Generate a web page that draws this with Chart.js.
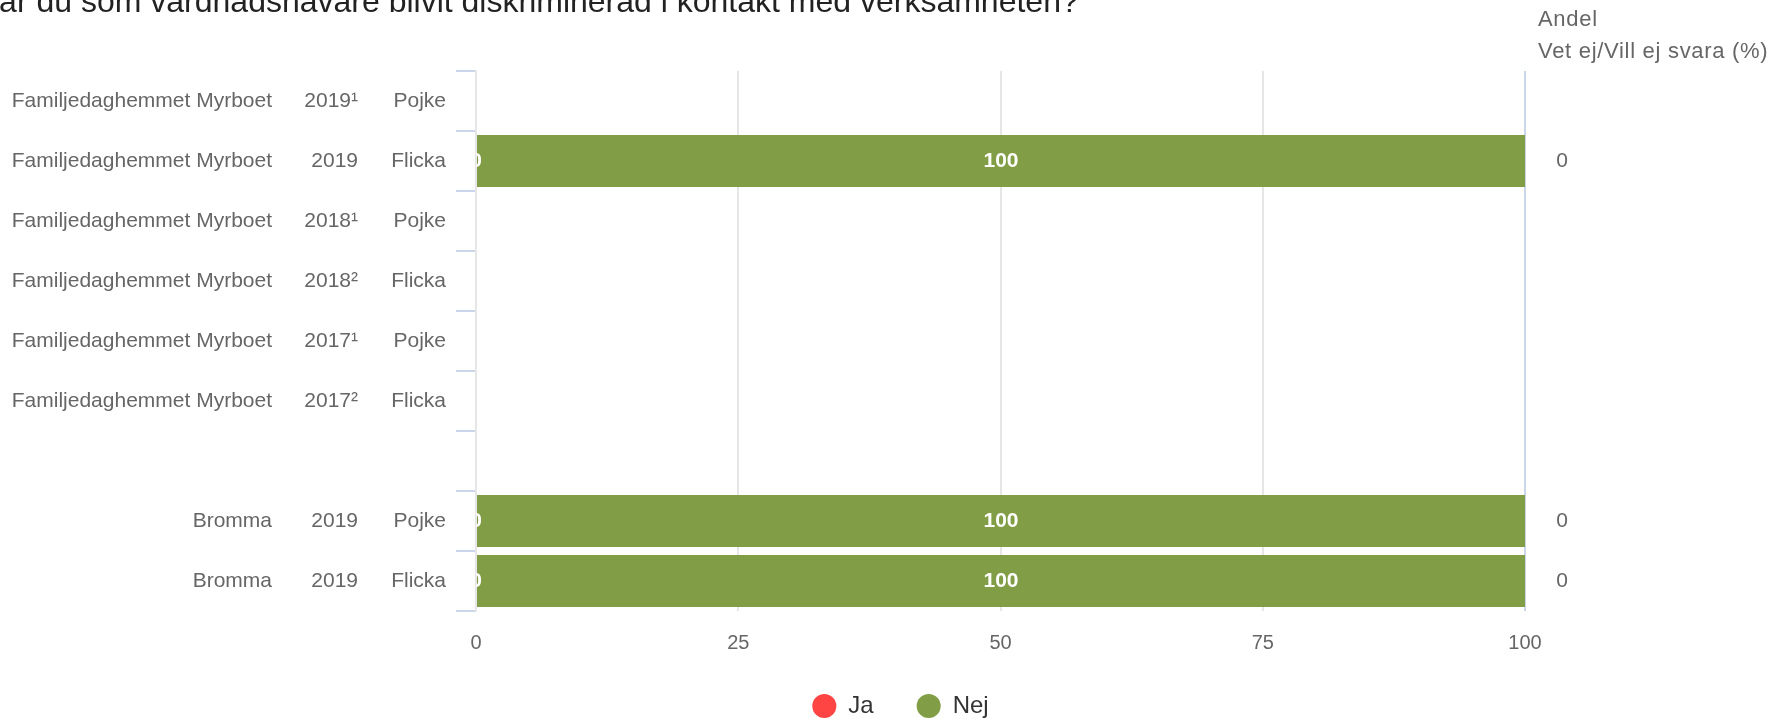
<!DOCTYPE html>
<html>
<head>
<meta charset="utf-8">
<script src="https://cdn.jsdelivr.net/npm/chart.js@4.4.1/dist/chart.umd.min.js"></script>
<style>
  html, body { margin: 0; padding: 0; background: #fff; }
  #wrap { width: 1777px; height: 723px; overflow: hidden; }
</style>
</head>
<body>
<div id="wrap"><canvas id="chart" width="1777" height="723"></canvas></div>
<script>
// data
const titleText = 'Har du som vårdnadshavare blivit diskriminerad i kontakt med verksamheten?';
const units = ['Familjedaghemmet Myrboet', 'Familjedaghemmet Myrboet', 'Familjedaghemmet Myrboet',
    'Familjedaghemmet Myrboet', 'Familjedaghemmet Myrboet', 'Familjedaghemmet Myrboet', '', 'Bromma', 'Bromma'];
const years = ['2019¹', '2019', '2018¹', '2018²', '2017¹', '2017²', '', '2019', '2019'];
const genders = ['Pojke', 'Flicka', 'Pojke', 'Flicka', 'Pojke', 'Flicka', '', 'Pojke', 'Flicka'];
const jaValues = [null, 0, null, null, null, null, null, 0, 0];
const nejValues = [null, 100, null, null, null, null, null, 100, 100];
const vetEjValues = [null, 0, null, null, null, null, null, 0, 0];
const sideHeader = ['Andel', 'Vet ej/Vill ej svara (%)'];
const xTicks = [0, 25, 50, 75, 100];

const fontFamily = '"Liberation Sans", Arial, sans-serif';

// title (cut off at the top/left like the original) and right header
const headerText = {
    id: 'headerText',
    afterDraw(chart) {
        const ctx = chart.ctx;
        ctx.save();
        ctx.font = '32px ' + fontFamily;
        ctx.fillStyle = '#222222';
        ctx.textAlign = 'left';
        ctx.textBaseline = 'alphabetic';
        ctx.fillText(titleText, -24, 12);

        ctx.font = '22px ' + fontFamily;
        ctx.fillStyle = '#666666';
        ctx.textBaseline = 'middle';
        ctx.letterSpacing = '0.7px';
        ctx.fillText(sideHeader[0], 1538, 20);
        ctx.fillText(sideHeader[1], 1538, 52);
        ctx.restore();
    }
};

// three label columns on the left + extra column on the right
const rowLabels = {
    id: 'rowLabels',
    afterDraw(chart) {
        const ctx = chart.ctx;
        const y = chart.scales.y;
        ctx.save();
        ctx.font = '21px ' + fontFamily;
        ctx.fillStyle = '#666666';
        ctx.textBaseline = 'middle';
        ctx.textAlign = 'right';
        units.forEach(function (u, i) {
            const py = y.getPixelForValue(i);
            ctx.fillText(u, 272, py);
            ctx.fillText(years[i], 358, py);
            ctx.fillText(genders[i], 446, py);
        });
        ctx.textAlign = 'center';
        vetEjValues.forEach(function (v, i) {
            if (v === null) return;
            ctx.fillText(String(v), 1562, y.getPixelForValue(i));
        });
        ctx.restore();
    }
};

// white labels inside the bars
const barLabels = {
    id: 'barLabels',
    afterDatasetsDraw(chart) {
        const ctx = chart.ctx;
        const area = chart.chartArea;
        ctx.save();
        ctx.beginPath();
        ctx.rect(area.left, area.top, area.right - area.left, area.bottom - area.top);
        ctx.clip();
        ctx.font = 'bold 21px ' + fontFamily;
        ctx.fillStyle = '#ffffff';
        ctx.textAlign = 'center';
        ctx.textBaseline = 'middle';
        chart.data.datasets.forEach(function (ds, di) {
            const meta = chart.getDatasetMeta(di);
            meta.data.forEach(function (bar, i) {
                const v = ds.data[i];
                if (v === null || v === undefined) return;
                ctx.fillText(String(v), (bar.x + bar.base) / 2, bar.y);
            });
        });
        ctx.restore();
    }
};

// keep the legend short so the plot keeps its height
const legendFit = {
    id: 'legendFit',
    afterInit(chart) {
        const lg = chart.legend;
        if (!lg) return;
        const fit = lg.fit;
        lg.fit = function () {
            fit.call(this);
            this.height = 72;
        };
    }
};

const ctx = document.getElementById('chart');
new Chart(ctx, {
    type: 'bar',
    data: {
        labels: units.map(function (u, i) { return (u + ' ' + years[i] + ' ' + genders[i]).trim(); }),
        datasets: [{
            label: 'Ja',
            data: jaValues,
            backgroundColor: '#ff4444',
            borderWidth: 0
        }, {
            label: 'Nej',
            data: nejValues,
            backgroundColor: '#819d45',
            borderWidth: 0
        }]
    },
    options: {
        indexAxis: 'y',
        responsive: false,
        animation: false,
        devicePixelRatio: 1,
        barPercentage: 0.87,
        categoryPercentage: 1,
        layout: { padding: { top: 71, right: 252, left: 276, bottom: 0 } },
        scales: {
            x: {
                stacked: true,
                min: 0,
                max: 100,
                afterBuildTicks: function (scale) {
                    scale.ticks = xTicks.map(function (v) { return { value: v }; });
                },
                afterFit: function (scale) { scale.height = 40; },
                border: { display: false },
                grid: {
                    drawTicks: false,
                    lineWidth: 2,
                    color: function (c) {
                        return c.tick && c.tick.value === 100 ? '#ccd6eb' : '#e6e6e6';
                    }
                },
                ticks: {
                    padding: 20,
                    color: '#666666',
                    font: { family: fontFamily, size: 20 }
                }
            },
            y: {
                stacked: true,
                afterFit: function (scale) { scale.width = 200; },
                border: { display: true, color: '#e6e6e6', width: 2 },
                grid: {
                    offset: true,
                    drawOnChartArea: false,
                    drawTicks: true,
                    tickLength: 20,
                    lineWidth: 2,
                    color: '#ccd6eb'
                },
                ticks: { display: false }
            }
        },
        plugins: {
            tooltip: { enabled: false },
            title: { display: false },
            legend: {
                position: 'bottom',
                labels: {
                    usePointStyle: true,
                    pointStyle: 'circle',
                    boxWidth: 24,
                    boxHeight: 17,
                    padding: 43,
                    color: '#333333',
                    font: { family: fontFamily, size: 24 }
                }
            }
        }
    },
    plugins: [legendFit, headerText, rowLabels, barLabels]
});
</script>
</body>
</html>
